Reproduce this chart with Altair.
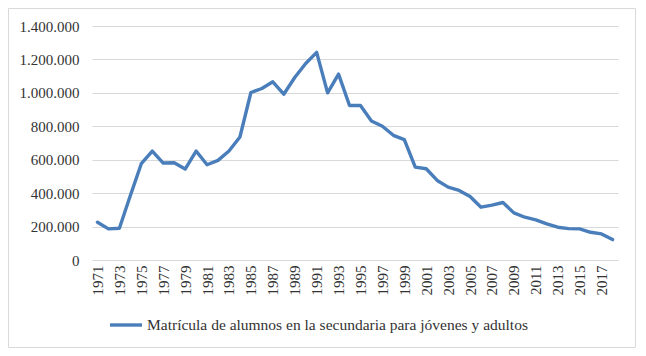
import altair as alt
import pandas as pd

years = list(range(1971, 2019))
values = [226000, 186000, 190000, 386000, 576000, 652000, 580000, 582000, 544000, 652000,
          570000, 596000, 652000, 736000, 1002000, 1026000, 1066000, 992000, 1092000, 1176000,
          1242000, 1000000, 1112000, 924000, 924000, 832000, 800000, 746000, 720000, 556000,
          546000, 476000, 436000, 416000, 380000, 316000, 328000, 344000, 282000, 256000,
          240000, 216000, 196000, 188000, 186000, 166000, 156000, 122000]
series_name = "Matrícula de alumnos en la secundaria para jóvenes y adultos"
y_ticks = [0, 200000, 400000, 600000, 800000, 1000000, 1200000, 1400000]
x_labels = [y for y in years if y % 2 == 1]

df = pd.DataFrame({"year": years, "value": values, "serie": [series_name] * len(years)})

FONT = "Liberation Serif, Times New Roman, serif"
TXT = "#333333"

line = alt.Chart(df).mark_line(strokeWidth=3.4, strokeJoin="round", strokeCap="round").encode(
    x=alt.X("year:O", title=None,
            scale=alt.Scale(paddingInner=0, paddingOuter=0),
            axis=alt.Axis(values=x_labels, labelAngle=270, labelFont=FONT, labelFontSize=15,
                          labelColor=TXT, ticks=False, domain=False, grid=False, labelPadding=5)),
    y=alt.Y("value:Q", title=None,
            scale=alt.Scale(domain=[0, 1400000], nice=False),
            axis=alt.Axis(values=y_ticks, labelExpr="replace(format(datum.value, ','), regexp(',', 'g'), '.')",
                          labelFont=FONT, labelFontSize=15, labelColor=TXT, ticks=False, domain=False,
                          gridColor="#d9d9d9", gridWidth=1, labelPadding=13)),
    color=alt.Color("serie:N", title=None,
                    scale=alt.Scale(range=["#4a7ebb"]),
                    legend=alt.Legend(orient="none", legendX=16, legendY=281, symbolType="stroke",
                                      symbolSize=1024, symbolStrokeWidth=3.4, labelFont=FONT,
                                      labelFontSize=15.5, labelColor=TXT, labelLimit=600,
                                      symbolOffset=0, labelOffset=3)),
)

frame_df = pd.DataFrame({"k": [0]})
frame = alt.Chart(frame_df).mark_rect(fill=None, stroke="#d9d9d9", strokeWidth=1, clip=False).encode(
    x=alt.value(-83.5), x2=alt.value(543.5), y=alt.value(-17.5), y2=alt.value(321.5)
)

chart = alt.layer(frame, line).properties(
    width=526, height=234,
    autosize=alt.AutoSizeParams(type="none"),
    padding={"left": 84, "top": 18, "right": 20, "bottom": 88},
).configure_view(stroke=None)

chart.save("out.html", embed_options={"renderer": "svg", "actions": False})
